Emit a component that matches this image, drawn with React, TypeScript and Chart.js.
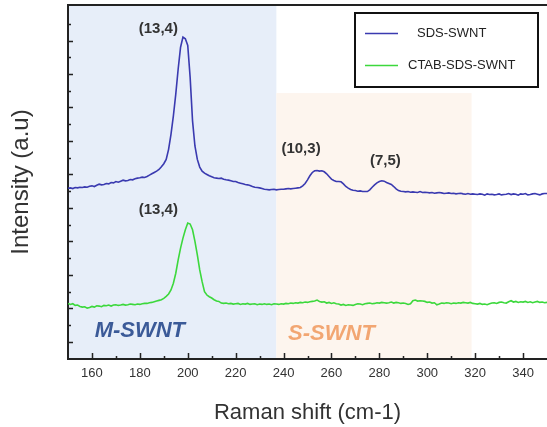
import React, { useEffect, useRef } from "react";
import { Chart, registerables } from "chart.js";

Chart.register(...registerables);

// Raman shift axis (cm-1): one sample per wavenumber from 150 to 350
const X_START = 150;
const X_STEP = 1;
const X_MIN = 150;
const X_MAX = 350;
const xTickLabels = [160, 180, 200, 220, 240, 260, 280, 300, 320, 340];

const seriesNames = ["SDS-SWNT", "CTAB-SDS-SWNT"];
const seriesColors = ["#3a3ab0", "#3cd83c"];

// SDS-SWNT intensity, 150..350 cm-1
const sdsSwnt = [
  45.9, 46.0, 45.8, 46.1, 46.0, 46.2, 46.1, 46.3, 46.2, 46.5,
  46.6, 46.4, 46.8, 47.1, 46.9, 47.0, 47.3, 47.2, 47.6, 47.5,
  47.9, 47.7, 48.0, 48.3, 48.1, 48.2, 48.5, 48.4, 48.7, 48.9,
  49.0, 49.2, 49.1, 49.4, 49.8, 50.2, 50.6, 51.0, 51.5, 52.3,
  53.2, 54.5, 57.5, 62.0, 67.5, 74.0, 81.5, 88.0, 91.0, 90.5,
  88.5, 79.0, 66.0, 58.5, 54.5, 52.2, 51.0, 50.4, 50.0, 49.6,
  49.3, 49.0, 48.9, 48.8, 48.9, 48.6, 48.4, 48.3, 48.1, 47.9,
  47.9, 47.6, 47.4, 47.2, 47.0, 46.9, 46.7, 46.4, 46.2, 46.1,
  46.0, 45.8, 45.6, 45.5, 45.4, 45.5, 45.6, 45.4, 45.5, 45.6,
  45.6, 45.7, 45.8, 45.7, 45.8, 45.9, 46.0, 46.1, 46.6, 47.3,
  48.4, 49.6, 50.6, 51.1, 51.2, 51.0, 51.1, 50.8, 50.2, 49.4,
  48.6, 48.2, 47.9, 47.9, 47.8, 47.2, 46.4, 45.9, 45.5, 45.3,
  45.2, 45.0, 45.1, 44.9, 44.9, 44.9, 45.4, 46.2, 46.9, 47.5,
  47.9, 48.1, 48.0, 47.6, 47.3, 47.0, 46.4, 45.7, 45.2, 45.0,
  44.9, 44.8, 44.9, 44.7, 44.8, 44.7, 44.6, 44.9, 44.6, 44.7,
  44.6, 44.5, 44.6, 44.4, 44.5, 44.6, 44.5, 44.3, 44.4, 44.5,
  44.3, 44.4, 44.2, 44.3, 44.4, 44.2, 44.1, 44.3, 44.1, 44.2,
  44.1, 44.0, 44.2, 44.1, 43.8, 44.2, 44.0, 44.1, 43.9, 44.0,
  44.2, 43.9, 44.0, 44.1, 44.3, 44.0, 44.2, 44.1, 43.8, 44.2,
  44.1, 44.3, 43.9, 44.0, 44.2, 44.3, 44.1, 43.9, 44.2, 44.3,
  44.3,
];

// CTAB-SDS-SWNT intensity, 150..350 cm-1
const ctabSdsSwnt = [
  11.5, 11.2, 11.4, 10.9, 11.0, 10.6, 10.4, 10.5, 10.1, 10.3,
  10.6, 10.4, 10.8, 10.7, 10.5, 10.9, 10.8, 11.0, 10.7, 11.0,
  11.1, 10.9, 11.0, 11.2, 11.0, 11.1, 11.3, 11.2, 11.1, 11.3,
  11.2, 11.4, 11.5, 11.5, 11.7, 11.8, 12.0, 12.2, 12.4, 12.6,
  13.0, 13.6, 14.3, 15.5, 17.5, 20.5, 24.5, 28.0, 31.0, 33.5,
  35.5, 35.2, 33.5, 30.0, 26.0, 21.5, 18.0, 15.0, 14.0, 13.5,
  13.1, 12.6, 12.2, 12.1, 11.6, 11.5, 11.6, 11.4, 11.5, 11.3,
  11.4, 11.5, 11.2, 11.4, 11.3, 11.5, 11.2, 11.3, 11.4, 11.1,
  11.3, 11.2, 11.4, 11.2, 11.3, 11.1, 11.4, 11.3, 11.2, 11.4,
  11.3, 11.5, 11.4, 11.6, 11.5, 11.7, 11.6, 11.8, 11.7, 11.9,
  11.8, 12.0, 12.1, 12.2, 12.5, 12.1, 11.9, 12.0, 11.6, 11.8,
  11.5, 11.7, 11.4, 11.3, 11.0, 11.2, 10.9, 11.1, 11.0, 10.9,
  11.2, 11.4, 11.3, 11.1, 11.4, 11.5, 11.6, 11.4, 11.5, 11.7,
  11.6, 11.8, 11.7, 11.6, 11.7, 11.9, 11.6, 11.8, 11.7, 11.5,
  11.6, 11.5, 11.2, 11.4, 12.3, 12.5, 12.2, 12.3, 12.2, 12.1,
  11.8, 11.9, 11.6, 11.7, 11.1, 11.3, 11.6, 11.5, 11.7, 11.6,
  11.4, 11.6, 11.5, 11.7, 11.6, 11.8, 11.7, 11.6, 11.8, 11.5,
  11.4, 11.3, 11.5, 11.2, 11.3, 11.1, 11.4, 11.6, 11.7, 11.5,
  11.8, 11.9, 11.7, 11.6, 12.0, 12.3, 11.9, 12.1, 11.8, 12.0,
  11.9, 12.1, 11.8, 12.0, 11.7, 11.9, 12.1, 11.8, 11.9, 11.7,
  11.8,
];

// Shaded regions (cm-1 range; top in intensity units, null = full height)
const regionNames = ["M-SWNT", "S-SWNT"];
const regionFrom = [150, 237];
const regionTo = [237, 318.5];
const regionTop: (number | null)[] = [null, 74.3];
const regionFill = ["#e7eef9", "#fdf5ee"];
const regionTextColor = ["#3b5a98", "#f2a672"];
const regionTextX = [180, 260];
const regionTextY = [3.3, 2.4];

// Peak chirality labels
const peakText = ["(13,4)", "(13,4)", "(10,3)", "(7,5)"];
const peakX = [187.7, 187.7, 247.3, 282.5];
const peakY = [93.4, 39.4, 57.6, 54.0];

const FONT = "'Liberation Sans', Arial, Helvetica, sans-serif";

const decorPlugin = {
  id: "decor",
  beforeDraw(chart: any) {
    const { ctx, chartArea: a, scales } = chart;
    const x = scales.x;
    const y = scales.y;
    ctx.save();
    ctx.fillStyle = "#ffffff";
    ctx.fillRect(0, 0, chart.width, chart.height);
    for (let i = 0; i < regionFrom.length; i++) {
      const x0 = x.getPixelForValue(regionFrom[i]);
      const x1 = x.getPixelForValue(regionTo[i]);
      const t = regionTop[i];
      const y0 = t === null ? a.top : y.getPixelForValue(t);
      ctx.fillStyle = regionFill[i];
      ctx.fillRect(x0, y0, x1 - x0, a.bottom - y0);
    }
    ctx.restore();
  },
  afterDatasetsDraw(chart: any) {
    const { ctx, chartArea: a, scales } = chart;
    const x = scales.x;
    const y = scales.y;
    ctx.save();
    // top frame line
    ctx.strokeStyle = "#222";
    ctx.lineWidth = 2;
    ctx.beginPath();
    ctx.moveTo(a.left - 1, a.top);
    ctx.lineTo(a.right + 2, a.top);
    ctx.stroke();

    // inward tick marks
    ctx.lineWidth = 1.5;
    ctx.beginPath();
    for (let v = X_MIN + 10; v < X_MAX; v += 10) {
      const px = Math.round(x.getPixelForValue(v)) + 0.5;
      const len = v % 20 === 0 ? 6 : 3;
      ctx.moveTo(px, a.bottom);
      ctx.lineTo(px, a.bottom - len);
    }
    for (let v = 0; v <= 95; v += 5) {
      const py = Math.round(y.getPixelForValue(v)) + 0.5;
      const len = v % 10 === 0 ? 5 : 3;
      ctx.moveTo(a.left, py);
      ctx.lineTo(a.left + len, py);
    }
    ctx.stroke();

    // peak labels
    ctx.textAlign = "center";
    ctx.textBaseline = "middle";
    ctx.fillStyle = "#333";
    ctx.font = `bold 15px ${FONT}`;
    for (let i = 0; i < peakText.length; i++) {
      ctx.fillText(peakText[i], x.getPixelForValue(peakX[i]), y.getPixelForValue(peakY[i]));
    }

    // region labels
    ctx.font = `italic bold 22px ${FONT}`;
    for (let i = 0; i < regionNames.length; i++) {
      ctx.fillStyle = regionTextColor[i];
      ctx.fillText(regionNames[i], x.getPixelForValue(regionTextX[i]), y.getPixelForValue(regionTextY[i]));
    }

    // legend box
    const bx = 355, by = 13, bw = 183, bh = 74;
    ctx.fillStyle = "#ffffff";
    ctx.fillRect(bx, by, bw, bh);
    ctx.strokeStyle = "#111";
    ctx.lineWidth = 2;
    ctx.strokeRect(bx, by, bw, bh);
    const rowsY = [33, 65];
    const textX = [417, 408];
    ctx.textAlign = "left";
    ctx.font = `13px ${FONT}`;
    chart.data.datasets.forEach((ds: any, i: number) => {
      ctx.strokeStyle = ds.borderColor;
      ctx.lineWidth = 1.5;
      ctx.beginPath();
      ctx.moveTo(365, rowsY[i] + 0.5);
      ctx.lineTo(398, rowsY[i] + 0.5);
      ctx.stroke();
      ctx.fillStyle = "#222";
      ctx.fillText(ds.label, textX[i], rowsY[i]);
    });
    ctx.restore();
  },
};

export default function App() {
  const canvasRef = useRef<HTMLCanvasElement | null>(null);

  useEffect(() => {
    if (!canvasRef.current) return;
    const toPoints = (vals: number[]) =>
      vals.map((v, i) => ({ x: X_START + i * X_STEP, y: v }));
    const chart = new Chart(canvasRef.current, {
      type: "line",
      data: {
        datasets: [
          {
            label: seriesNames[0],
            data: toPoints(sdsSwnt),
            borderColor: seriesColors[0],
            borderWidth: 1.6,
            pointRadius: 0,
            fill: false,
          },
          {
            label: seriesNames[1],
            data: toPoints(ctabSdsSwnt),
            borderColor: seriesColors[1],
            borderWidth: 1.6,
            pointRadius: 0,
            fill: false,
          },
        ],
      },
      options: {
        responsive: false,
        animation: false,
        devicePixelRatio: 1,
        layout: { padding: { top: 5, left: 0, right: 0, bottom: 0 } },
        plugins: {
          legend: { display: false },
          tooltip: { enabled: false },
        },
        scales: {
          x: {
            type: "linear",
            min: X_MIN,
            max: X_MAX,
            grid: { display: false, drawTicks: false },
            border: { display: true, color: "#222", width: 2 },
            ticks: {
              color: "#333",
              font: { size: 13, family: FONT },
              padding: 7,
              maxRotation: 0,
              autoSkip: false,
            },
            afterBuildTicks: (s: any) => {
              s.ticks = xTickLabels.map((v) => ({ value: v }));
            },
            afterFit: (s: any) => {
              s.height = 68;
            },
            title: {
              display: true,
              text: "Raman shift (cm-1)",
              color: "#333",
              font: { size: 22, family: FONT },
              padding: { top: 0, bottom: 1 },
            },
          },
          y: {
            type: "linear",
            min: -5.1,
            max: 100.6,
            grid: { display: false, drawTicks: false },
            border: { display: true, color: "#222", width: 2 },
            ticks: { display: false },
            afterFit: (s: any) => {
              s.width = 68;
            },
            title: {
              display: true,
              text: "Intensity (a.u)",
              color: "#333",
              font: { size: 24, family: FONT },
              padding: { top: 7, bottom: 0 },
            },
          },
        },
      },
      plugins: [decorPlugin],
    } as any);
    return () => chart.destroy();
  }, []);

  return (
    <div style={{ position: "absolute", left: 0, top: 0, width: 547, height: 427 }}>
      <canvas ref={canvasRef} width={547} height={427} style={{ display: "block" }} />
    </div>
  );
}
